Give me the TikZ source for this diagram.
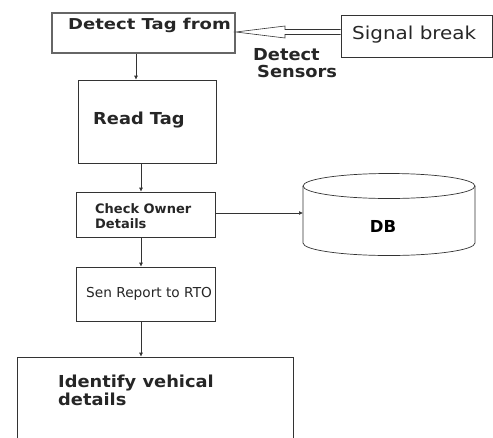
\documentclass[tikz,border=0pt]{standalone}
\usepackage{fontspec}
\setmainfont{DejaVu Sans}
\usetikzlibrary{arrows.meta,calc}

\begin{document}
\begin{tikzpicture}
[x=1pt,y=-1pt,thin,
 box/.style={draw=black!80,line width=0.7pt,shape=rectangle,inner sep=0pt},
 txt/.style={inner sep=0pt,anchor=base west,align=left,text=black!85},
 big/.style={font=\fontsize{16.5}{17.5}\selectfont\bfseries\addfontfeature{FakeStretch=1.08}},
 small/.style={font=\fontsize{13}{15}\selectfont\bfseries},
 arr/.style={draw=black!80,line width=0.7pt,-{Latex[length=4pt,width=4pt]}}]
\useasboundingbox (0,0) rectangle (493,437);
\clip (0,0) rectangle (493,437);

% boxes
\node[box,draw=black!60,line width=1.8pt,minimum width=183pt,minimum height=40pt] (det) at (143.5,33) {};
\node[box,minimum width=151pt,minimum height=42pt] (sig) at (416.5,36) {};
\node[box,minimum width=138pt,minimum height=83pt] (read) at (147,121.5) {};
\node[box,minimum width=139pt,minimum height=45pt] (chk) at (145.5,214.5) {};
\node[box,minimum width=139pt,minimum height=54pt] (sen) at (145.5,294) {};
\node[box,minimum width=276pt,minimum height=88pt] (ident) at (155,401) {};

% texts (multi-line nodes sit on the last line)
\node[txt,font=\fontsize{15}{17}\selectfont\bfseries\addfontfeature{FakeStretch=1.2}] (detT) at (68,29.3) {Detect Tag from};
\node[txt,font=\fontsize{17.8}{19}\selectfont\addfontfeature{FakeStretch=1.12}] (sigT) at (352,39.3) {Signal break};
\node[txt,big] (sensT) at (253,77) {Detect\\[-0.5pt]\hspace{4pt}Sensors};
\node[txt,big] (readT) at (93,124) {Read Tag};
\node[txt,small] (chkT) at (95,228) {Check Owner\\Details};
\node[txt,font=\fontsize{13.7}{15}\selectfont] (senT) at (86,297) {Sen Report to RTO};
\node[txt,big] (identT) at (58,405) {Identify vehical\\[0.5pt]details};

% data base
\draw[draw=black!80,line width=0.7pt] (389,186) ellipse [x radius=86pt,y radius=12.5pt];
\draw[draw=black!80,line width=0.7pt] (303,186) -- (303,243)
	arc[start angle=180,end angle=360,x radius=86pt,y radius=12.5pt] -- (475,186);
\node[inner sep=0pt,font=\fontsize{16.5}{17}\selectfont\bfseries] (db) at (383,226) {DB};
\coordinate (dbside) at (303,213);

% connectors
\draw[draw=black!80,line width=0.6pt,fill=white]
	(sig.west |- 0,29.5) -- (285,29.5) -- (285,26) -- (det.east |- 0,32)
	-- (285,38) -- (285,34.5) -- (sig.west |- 0,34.5);
\path
\foreach \startNode/\endNode/\xx in {det/read/136, read/chk/141, chk/sen/141, sen/ident/141}
{
	(\startNode.south -| \xx,0) edge[arr] (\endNode.north -| \xx,0)
};
\draw[arr] (chk.east |- dbside) -- (dbside);
\end{tikzpicture}
\end{document}
